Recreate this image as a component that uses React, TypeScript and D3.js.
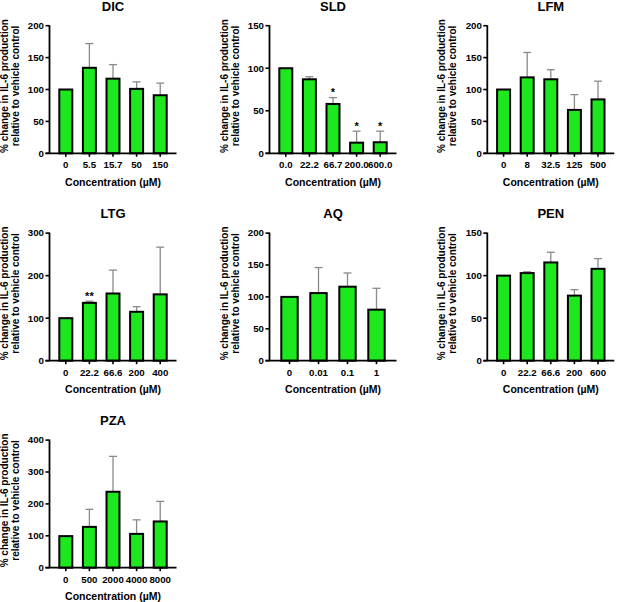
import React from "react";
import * as d3 from "d3";

const titles = ["DIC", "SLD", "LFM", "LTG", "AQ", "PEN", "PZA"];
const dicCats = ["0", "5.5", "15.7", "50", "150"];
const dicMeans = [100, 134, 117, 101, 91];
const dicErrs = [100, 172, 139, 112, 110];
const sldCats = ["0.0", "22.2", "66.7", "200.0", "600.0"];
const sldMeans = [100, 87, 58, 12.5, 13];
const sldErrs = [100, 90, 65.5, 26, 26];
const sldStars = ["", "", "*", "*", "*"];
const lfmCats = ["0", "8", "32.5", "125", "500"];
const lfmMeans = [100, 119, 116, 68, 84.5];
const lfmErrs = [100, 158, 131, 92, 113];
const ltgCats = ["0", "22.2", "66.6", "200", "400"];
const ltgMeans = [100, 136, 158, 115, 156];
const ltgErrs = [100, 140, 213, 127, 267];
const ltgStars = ["", "**", "", "", ""];
const aqCats = ["0", "0.01", "0.1", "1"];
const aqMeans = [100, 106, 116, 80];
const aqErrs = [100, 146, 137.5, 113.5];
const penCats = ["0", "22.2", "66.6", "200", "600"];
const penMeans = [100, 103, 115.5, 76.5, 108];
const penErrs = [100, 104.5, 127.5, 83.5, 120];
const pzaCats = ["0", "500", "2000", "4000", "8000"];
const pzaMeans = [99, 128, 238, 106, 145];
const pzaErrs = [99, 183, 349, 150, 208];
const yMaxes = [200, 150, 200, 300, 200, 150, 400];
const ySteps = [50, 50, 50, 100, 50, 50, 100];

const panels = [
  { cats: dicCats, means: dicMeans, errs: dicErrs, stars: null as string[] | null },
  { cats: sldCats, means: sldMeans, errs: sldErrs, stars: sldStars },
  { cats: lfmCats, means: lfmMeans, errs: lfmErrs, stars: null },
  { cats: ltgCats, means: ltgMeans, errs: ltgErrs, stars: ltgStars },
  { cats: aqCats, means: aqMeans, errs: aqErrs, stars: null },
  { cats: penCats, means: penMeans, errs: penErrs, stars: null },
  { cats: pzaCats, means: pzaMeans, errs: pzaErrs, stars: null },
];

const colX = [49.5, 269.5, 487.3];
const rowY = [0, 207.4, 414.4];
const FONT = "'Liberation Sans', Arial, sans-serif";
const GREEN = "#1de81d";

function Panel({ i }: { i: number }) {
  const p = panels[i];
  const ax = colX[i % 3];
  const ry = rowY[Math.floor(i / 3)];
  const top = ry + 25.7;
  const bottom = ry + 153.3;
  const axLen = 127;
  const y = d3.scaleLinear().domain([0, yMaxes[i]]).range([bottom, top]);
  const x = d3.scalePoint<string>().domain(p.cats).range([ax, ax + axLen]).padding(0.69);
  const step = x.step();
  const bw = step * 0.635 - 2;
  const ticks = d3.range(0, yMaxes[i] + 0.001, ySteps[i]);
  const midY = ry + 86;
  return (
    <g fontFamily={FONT} fontWeight="bold" fill="#000">
      <text x={ax + axLen / 2} y={ry + 11} textAnchor="middle" fontSize={13}>
        {titles[i]}
      </text>
      {p.cats.map((c, k) =>
        p.errs[k] > p.means[k] ? (
          <g key={"e" + k} stroke="#8a8a8a" strokeWidth={1.3}>
            <line x1={x(c)!} x2={x(c)!} y1={y(p.means[k])} y2={y(p.errs[k])} />
            <line x1={x(c)! - 4} x2={x(c)! + 4} y1={y(p.errs[k])} y2={y(p.errs[k])} />
          </g>
        ) : null
      )}
      {p.cats.map((c, k) => (
        <rect
          key={"b" + k}
          x={x(c)! - bw / 2}
          y={y(p.means[k])}
          width={bw}
          height={bottom - y(p.means[k])}
          fill={GREEN}
          stroke="#000"
          strokeWidth={2}
        />
      ))}
      {p.stars &&
        p.cats.map((c, k) =>
          p.stars![k] ? (
            <text key={"s" + k} x={x(c)!} y={y(p.errs[k]) - 1.5} textAnchor="middle" fontSize={11}>
              {p.stars![k]}
            </text>
          ) : null
        )}
      <line x1={ax} x2={ax} y1={top - 0.5} y2={bottom} stroke="#000" strokeWidth={1.8} />
      <line x1={ax - 4} x2={ax + axLen} y1={bottom} y2={bottom} stroke="#000" strokeWidth={1.8} />
      {ticks.map((t) => (
        <g key={"t" + t}>
          <line x1={ax - 4} x2={ax} y1={y(t)} y2={y(t)} stroke="#000" strokeWidth={1.6} />
          <text x={ax - 5.5} y={y(t)} dy="0.35em" textAnchor="end" fontSize={9.7}>
            {t}
          </text>
        </g>
      ))}
      {p.cats.map((c) => (
        <g key={"x" + c}>
          <line x1={x(c)!} x2={x(c)!} y1={bottom} y2={bottom + 3.5} stroke="#000" strokeWidth={1.6} />
          <text x={x(c)!} y={ry + 168.3} textAnchor="middle" fontSize={9.7}>
            {c}
          </text>
        </g>
      ))}
      <text x={ax + axLen / 2} y={ry + 185.5} textAnchor="middle" fontSize={10.5}>
        Concentration (µM)
      </text>
      <text transform={`translate(${ax - 42},${midY}) rotate(-90)`} textAnchor="middle" fontSize={10}>
        % change in IL-6 production
      </text>
      <text transform={`translate(${ax - 31},${midY}) rotate(-90)`} textAnchor="middle" fontSize={10}>
        relative to vehicle control
      </text>
    </g>
  );
}

export default function App() {
  return (
    <svg
      width={617}
      height={602}
      style={{ position: "absolute", left: 0, top: 0, background: "#fff" }}
    >
      <rect width={617} height={602} fill="#fff" />
      {panels.map((_, i) => (
        <Panel key={i} i={i} />
      ))}
    </svg>
  );
}
